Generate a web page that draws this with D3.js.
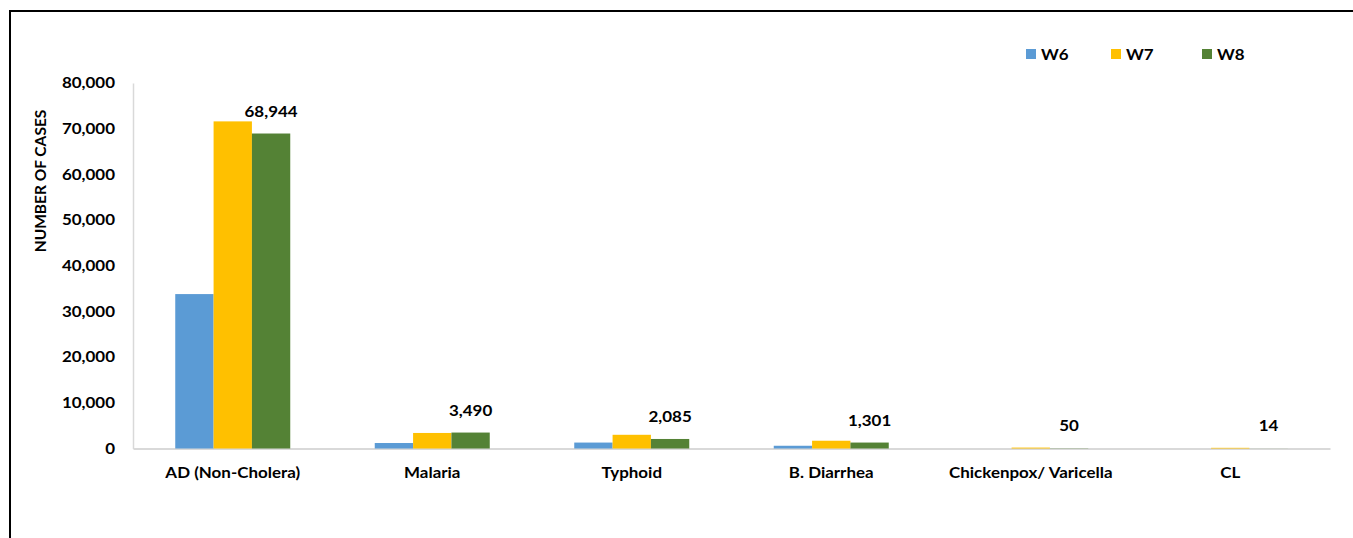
<!DOCTYPE html>
<html>
<head>
<meta charset="utf-8">
<script src="https://cdn.jsdelivr.net/npm/d3@7"></script>
<style>
  html, body { margin: 0; padding: 0; background: #fff; }
  svg { display: block; }
  text { font-family: Lato, "Open Sans", "Liberation Sans", sans-serif; font-weight: bold; fill: #000; }
</style>
</head>
<body>
<svg id="chart" width="1353" height="538"></svg>
<script>
// Weekly case counts per disease
const categories = ["AD (Non-Cholera)", "Malaria", "Typhoid", "B. Diarrhea", "Chickenpox/ Varicella", "CL"];
const seriesNames = ["W6", "W7", "W8"];
const w6 = [33800, 1200, 1300, 600, 0, 0];
const w7 = [71600, 3400, 3000, 1700, 200, 150];
const w8 = [68944, 3490, 2085, 1301, 50, 14];
const seriesColors = ["#5b9bd5", "#ffc000", "#548235"];
const yTicks = [0, 10000, 20000, 30000, 40000, 50000, 60000, 70000, 80000];

const series = [w6, w7, w8];
const svg = d3.select("#chart");
const FONT = "Lato, sans-serif";
const WIDEN = 1.13;

// Widen text glyphs horizontally around each label's anchor point
function widen(sel, k) {
  sel.each(function () {
    const t = d3.select(this);
    const ax = +t.attr("x") || 0;
    const prev = t.attr("transform") || "";
    t.attr("transform", `${prev} translate(${ax},0) scale(${k},1) translate(${-ax},0)`);
  });
}

// Outer frame (top and left edges)
svg.append("line").attr("x1", 10).attr("x2", 1353).attr("y1", 11).attr("y2", 11)
  .attr("stroke", "#000").attr("stroke-width", 2);
svg.append("line").attr("x1", 10).attr("x2", 10).attr("y1", 10).attr("y2", 538)
  .attr("stroke", "#000").attr("stroke-width", 2);

const plot = { left: 133, right: 1330, top: 83, bottom: 448.5 };

const x0 = d3.scaleBand().domain(categories).range([plot.left, plot.right]).paddingInner(0).paddingOuter(0);
const groupW = 115;
const x1 = d3.scaleBand().domain(seriesNames).range([0, groupW]).padding(0);
const y = d3.scaleLinear().domain([0, 80000]).range([plot.bottom, plot.top]);

// Y axis
const yAxis = d3.axisLeft(y).tickValues(yTicks).tickFormat(d3.format(",")).tickSize(0).tickPadding(18);
const yg = svg.append("g").attr("transform", `translate(${plot.left},0)`).call(yAxis);
yg.select(".domain").attr("stroke", "#d9d9d9").attr("stroke-width", 1.5);
yg.selectAll("text").style("font-size", "15px").style("font-family", FONT)
  .style("font-weight", "bold").attr("fill", "#000");
widen(yg.selectAll(".tick text"), WIDEN);

// X axis baseline
const xAxis = d3.axisBottom(x0).tickSize(0).tickPadding(19);
const xg = svg.append("g").attr("transform", `translate(0,${plot.bottom})`).call(xAxis);
xg.select(".domain").attr("stroke", "#d9d9d9").attr("stroke-width", 2);
xg.selectAll("text").style("font-size", "15px").style("font-family", FONT)
  .style("font-weight", "bold").attr("fill", "#000");
widen(xg.selectAll(".tick text"), WIDEN);

// Bars
const groups = svg.append("g").selectAll("g").data(categories).join("g")
  .attr("transform", d => `translate(${x0(d) + (x0.bandwidth() - groupW) / 2},0)`);

groups.selectAll("rect").data((d, i) => seriesNames.map((s, j) => ({ s, j, v: series[j][i] })))
  .join("rect")
  .attr("x", d => x1(d.s))
  .attr("width", x1.bandwidth())
  .attr("y", d => y(d.v))
  .attr("height", d => y(0) - y(d.v))
  .attr("fill", d => seriesColors[d.j]);

// W8 value labels
const vl = groups.append("text")
  .attr("x", x1("W8") + x1.bandwidth() / 2)
  .attr("y", (d, i) => y(w8[i]) - 17)
  .attr("text-anchor", "middle")
  .style("font-size", "15px")
  .text((d, i) => d3.format(",")(w8[i]));
widen(vl, WIDEN);

// Y axis title
svg.append("text")
  .attr("transform", "translate(46,181) rotate(-90)")
  .attr("text-anchor", "middle")
  .style("font-size", "15.5px")
  .text("NUMBER OF CASES");

// Legend
const legendX = [1026, 1111, 1202];
const legend = svg.append("g").selectAll("g").data(seriesNames).join("g")
  .attr("transform", (d, i) => `translate(${legendX[i]},49)`);
legend.append("rect").attr("width", 10).attr("height", 10).attr("fill", (d, i) => seriesColors[i]);
const lt = legend.append("text").attr("x", 15).attr("y", 11).style("font-size", "15px").text(d => d);
widen(lt, WIDEN);
</script>
</body>
</html>
